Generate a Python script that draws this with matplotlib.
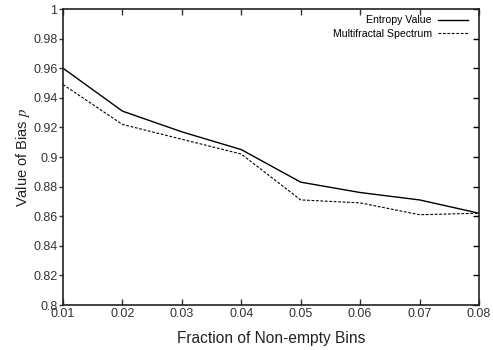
import matplotlib
matplotlib.use("Agg")
from matplotlib import pyplot as plt

plt.rcParams['font.family'] = ['Liberation Sans', 'DejaVu Sans']
plt.rcParams['mathtext.fontset'] = 'stix'

fraction = [0.01, 0.02, 0.03, 0.04, 0.05, 0.06, 0.07, 0.08]
entropy = [0.960, 0.931, 0.917, 0.905, 0.883, 0.876, 0.871, 0.862]
multifractal = [0.949, 0.922, 0.912, 0.902, 0.871, 0.869, 0.861, 0.862]
yticks = [0.8, 0.82, 0.84, 0.86, 0.88, 0.9, 0.92, 0.94, 0.96, 0.98, 1]
ylabels = ['0.8', '0.82', '0.84', '0.86', '0.88', '0.9', '0.92', '0.94', '0.96', '0.98', '1']

fig = plt.figure(figsize=(4.93, 3.5), dpi=100)
ax = fig.add_axes([63/493, 45/350, 416/493, 296/350])

ax.plot(fraction, entropy, color='black', lw=1.0, label='Entropy Value')
ax.plot(fraction, multifractal, color='black', lw=0.8, ls=(0, (2.5, 1.5)),
        label='Multifractal Spectrum')

ax.set_xlim(0.01, 0.08)
ax.set_ylim(0.8, 1.0)
ax.set_xticks(fraction)
ax.set_xticklabels(['0.01', '0.02', '0.03', '0.04', '0.05', '0.06', '0.07', '0.08'])
ax.set_yticks(yticks)
ax.set_yticklabels(ylabels)

for s in ax.spines.values():
    s.set_linewidth(1.2)
    s.set_color('#222222')

ax.tick_params(axis='x', direction='in', top=True, length=4, width=1,
               labelsize=9, pad=2, colors='#333333')
ax.tick_params(axis='y', direction='out', length=3, width=1,
               labelsize=9, pad=1, colors='#333333')
# right-side ticks point inward
sec = ax.secondary_yaxis('right')
sec.set_yticks(yticks)
sec.set_yticklabels([])
sec.tick_params(direction='in', length=4, width=1)
sec.spines['right'].set_visible(False)

ax.set_xlabel('Fraction of Non-empty Bins', fontsize=11.2, labelpad=8, color='#222222')
ax.set_ylabel('Value of Bias $p$', fontsize=10.5, labelpad=1, color='#222222')

leg = ax.legend(loc='upper right', bbox_to_anchor=(0.983, 0.993), frameon=False,
                markerfirst=False, fontsize=7.6, handlelength=2.8,
                handletextpad=0.6, labelspacing=0.35, borderaxespad=0)

fig.savefig('out.png', dpi=100)
